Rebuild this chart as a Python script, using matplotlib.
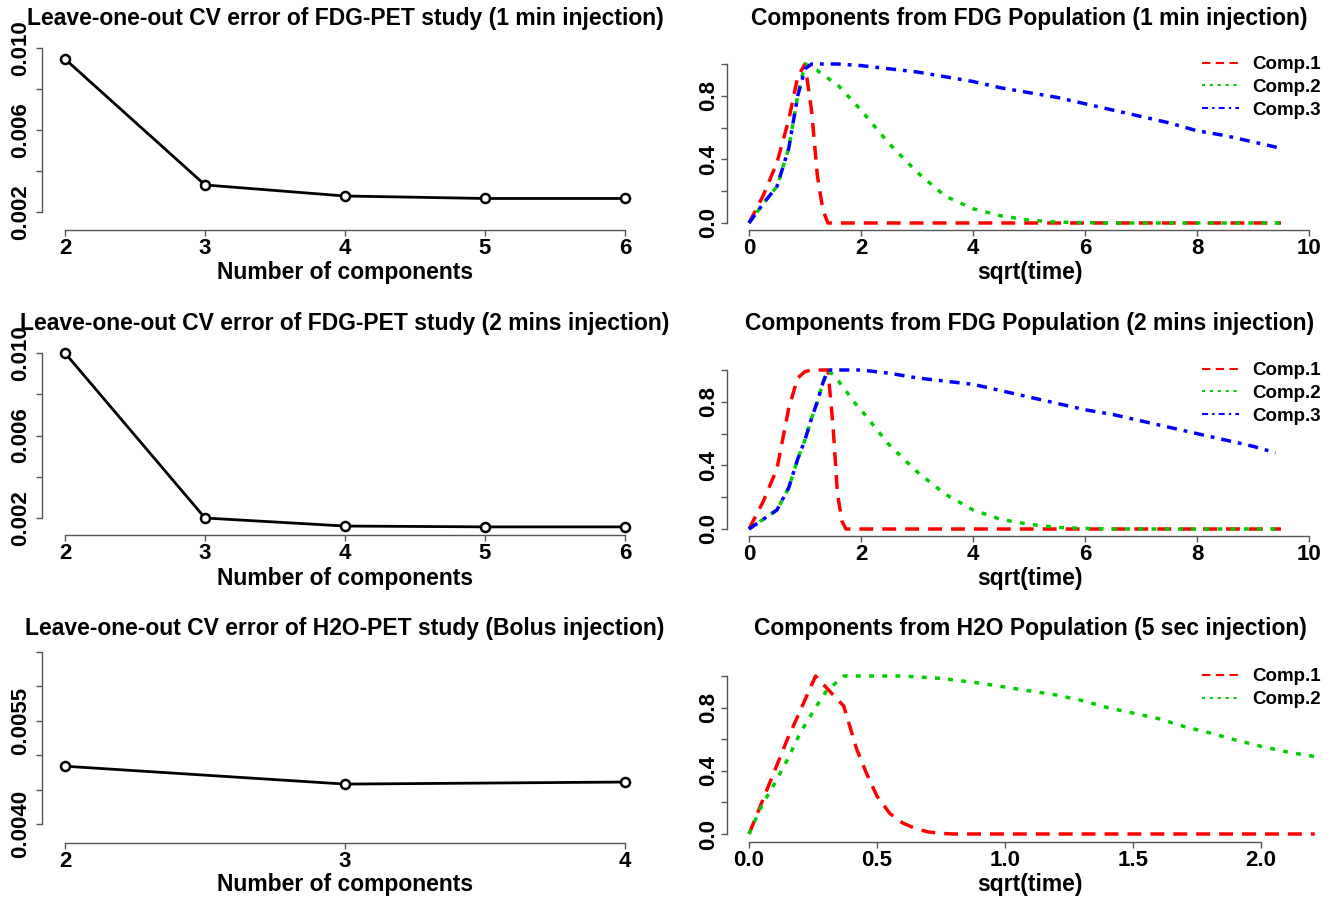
import matplotlib
matplotlib.use('Agg')
import matplotlib.pyplot as plt

plt.rcParams['font.family'] = ['Liberation Sans', 'DejaVu Sans']
plt.rcParams['font.weight'] = 'bold'

# ---- leave-one-out CV error ----
ncomp_fdg = [2, 3, 4, 5, 6]
cv_fdg_1min = [0.00946, 0.00332, 0.00278, 0.00266, 0.00266]
cv_fdg_2min = [0.0100, 0.0020, 0.00161, 0.00157, 0.00157]
ncomp_h2o = [2, 3, 4]
cv_h2o = [0.00484, 0.00458, 0.00461]

# ---- FDG components, 1 min injection ----
t_fdg1 = [0, 0.25, 0.5, 0.71, 0.87, 1.0, 1.12, 1.22, 1.32, 1.41, 1.58, 2.0, 2.5, 3.0,
          3.5, 4.0, 4.5, 5.0, 5.5, 6.0, 6.5, 7.0, 7.5, 8.0, 8.5, 9.0, 9.5]
fdg1_comp1 = [0, 0.17, 0.38, 0.65, 0.92, 1.0, 0.7, 0.3, 0.08, 0.0, 0, 0, 0, 0,
              0, 0, 0, 0, 0, 0, 0, 0, 0, 0, 0, 0, 0]
fdg1_comp2 = [0, 0.12, 0.23, 0.47, 0.8, 1.0, 0.98, 0.96, 0.93, 0.91, 0.87, 0.71, 0.5, 0.32,
              0.17, 0.09, 0.045, 0.018, 0.006, 0.002, 0, 0, 0, 0, 0, 0, 0]
fdg1_comp3 = [0, 0.12, 0.23, 0.47, 0.8, 0.97, 1.0, 1.0, 1.0, 1.0, 1.0, 0.99, 0.97, 0.95,
              0.92, 0.89, 0.85, 0.82, 0.79, 0.75, 0.71, 0.67, 0.63, 0.58, 0.55, 0.51, 0.47]

# ---- FDG components, 2 mins injection ----
t_fdg2 = [0, 0.25, 0.5, 0.71, 0.87, 1.0, 1.12, 1.22, 1.32, 1.41, 1.5, 1.58, 1.66, 1.73,
          1.87, 2.0, 2.5, 3.0, 3.5, 4.0, 4.5, 5.0, 5.5, 6.0, 6.5, 7.0, 7.5, 8.0, 8.5, 9.0, 9.5]
fdg2_comp1 = [0, 0.17, 0.38, 0.76, 0.95, 0.99, 1.0, 1.0, 1.0, 1.0, 0.65, 0.22, 0.05, 0.0,
              0, 0, 0, 0, 0, 0, 0, 0, 0, 0, 0, 0, 0, 0, 0, 0, 0]
fdg2_comp2 = [0, 0.06, 0.12, 0.26, 0.44, 0.56, 0.7, 0.8, 0.92, 1.0, 0.97, 0.94, 0.9, 0.87,
              0.8, 0.75, 0.53, 0.36, 0.22, 0.12, 0.06, 0.03, 0.01, 0.004, 0, 0, 0, 0, 0, 0, 0]
t_fdg2_c3 = [0, 0.25, 0.5, 0.71, 0.87, 1.0, 1.12, 1.22, 1.32, 1.41, 1.5, 2.0, 2.5, 3.0,
             3.5, 4.0, 4.5, 5.0, 5.5, 6.0, 6.5, 7.0, 7.5, 8.0, 8.5, 9.0, 9.4]
fdg2_comp3 = [0, 0.06, 0.12, 0.26, 0.44, 0.56, 0.7, 0.8, 0.92, 1.0, 1.0, 1.0, 0.98, 0.95,
              0.93, 0.91, 0.87, 0.83, 0.79, 0.75, 0.72, 0.68, 0.64, 0.6, 0.56, 0.52, 0.48]

# ---- H2O components, 5 sec injection ----
t_h2o = [0, 0.05, 0.1, 0.15, 0.2, 0.26, 0.3, 0.37, 0.42, 0.46, 0.5, 0.55, 0.6, 0.65, 0.7,
         0.75, 0.8, 0.9, 1.0, 1.1, 1.2, 1.3, 1.4, 1.5, 1.6, 1.7, 1.8, 1.9, 2.0, 2.1, 2.21]
h2o_comp1 = [0, 0.2, 0.4, 0.6, 0.78, 1.0, 0.93, 0.81, 0.54, 0.38, 0.24, 0.13, 0.07, 0.035, 0.013,
             0.004, 0, 0, 0, 0, 0, 0, 0, 0, 0, 0, 0, 0, 0, 0, 0]
h2o_comp2 = [0, 0.18, 0.32, 0.47, 0.64, 0.8, 0.9, 1.0, 1.0, 1.0, 1.0, 1.0, 1.0, 0.995, 0.99,
             0.985, 0.975, 0.955, 0.93, 0.905, 0.88, 0.845, 0.8, 0.765, 0.73, 0.68, 0.64,
             0.595, 0.555, 0.52, 0.49]

W, H = 1333, 897
fig = plt.figure(figsize=(W / 100, H / 100), dpi=100)

AX_COL = '#555555'
RED, GREEN, BLUE = '#FF0000', '#00CC00', '#0000FF'


def make_axes(left, right, top, bottom, xpx, xval, ypx, yval):
    # axes box in pixels, limits from two pixel anchors per axis
    ax = fig.add_axes([left / W, 1 - bottom / H, (right - left) / W, (bottom - top) / H])
    sx = (xval[1] - xval[0]) / (xpx[1] - xpx[0])
    sy = (yval[1] - yval[0]) / (ypx[1] - ypx[0])
    ax.set_xlim(xval[0] + (left - xpx[0]) * sx, xval[0] + (right - xpx[0]) * sx)
    ax.set_ylim(yval[0] + (bottom - ypx[0]) * sy, yval[0] + (top - ypx[0]) * sy)
    ax.patch.set_alpha(0)
    return ax


def style(ax, xticks, xlabels, yticks, ylabels, ypad):
    ax.spines[['top', 'right']].set_visible(False)
    for s in ['left', 'bottom']:
        ax.spines[s].set_color(AX_COL)
        ax.spines[s].set_linewidth(1.0)
    ax.spines['left'].set_bounds(yticks[0], yticks[-1])
    ax.spines['bottom'].set_bounds(xticks[0], xticks[-1])
    ax.set_xticks(xticks, xlabels)
    ax.set_yticks(yticks, ylabels)
    ax.tick_params(direction='out', length=4.5, width=1.0, color=AX_COL, labelsize=16)
    ax.tick_params(axis='x', pad=1.5)
    ax.tick_params(axis='y', pad=ypad)
    for lab in ax.get_yticklabels():
        lab.set_rotation(90)
        lab.set_va('center')


def ftext(x, y, s, size=16.5):
    fig.text(x / W, 1 - y / H, s, ha='center', va='center', fontsize=size, fontweight='bold')


def cv_panel(top, bottom, xticks, yvals_px, yvals, yticks, ylabels, n, cv):
    ax = make_axes(42, 660, top, bottom, (65, 625), (xticks[0], xticks[-1]), yvals_px, yvals)
    ax.plot(n, cv, color='black', lw=2.0, marker='o', ms=6.5, mfc='white', mec='black', mew=1.8,
            clip_on=False)
    style(ax, xticks, [str(v) for v in xticks], yticks, ylabels, 3.5)
    return ax


def comp_panel(top, bottom, xticks, xlabels, xpx, ypx, series, legend_top):
    ax = make_axes(727, 1330, top, bottom, xpx, (xticks[0], xticks[-1]), ypx, (0, 1))
    styles = [(RED, (0, (4.0, 2.6))), (GREEN, (0, (1.4, 2.4))), (BLUE, (0, (2.9, 2.0, 1.1, 2.0)))]
    for (x, y, lab), (c, ls) in zip(series, styles):
        ax.plot(x, y, color=c, lw=2.5, linestyle=ls, label=lab, clip_on=False)
    style(ax, xticks, xlabels, [0, 0.2, 0.4, 0.6, 0.8, 1.0],
          ['0.0', '', '0.4', '', '0.8', ''], 1.0)
    leg = ax.legend(loc='upper left', bbox_to_anchor=(1202 / W, 1 - legend_top / H),
                    bbox_transform=fig.transFigure, frameon=False, borderpad=0,
                    borderaxespad=0, handlelength=1.95, handletextpad=0.75,
                    labelspacing=0.31, fontsize=13.5)
    for line in leg.get_lines():
        line.set_linewidth(1.5)
    return ax


# left column
cv_panel(40, 230, [2, 3, 4, 5, 6], (212, 48), (0.002, 0.010),
         [0.002, 0.004, 0.006, 0.008, 0.010], ['0.002', '', '0.006', '', '0.010'],
         ncomp_fdg, cv_fdg_1min)
cv_panel(345, 535, [2, 3, 4, 5, 6], (518, 353), (0.002, 0.010),
         [0.002, 0.004, 0.006, 0.008, 0.010], ['0.002', '', '0.006', '', '0.010'],
         ncomp_fdg, cv_fdg_2min)
cv_panel(645, 843, [2, 3, 4], (824, 652), (0.0040, 0.0065),
         [0.0040, 0.0045, 0.0050, 0.0055, 0.0060, 0.0065],
         ['0.0040', '', '', '0.0055', '', ''], ncomp_h2o, cv_h2o)

# right column
comp_panel(40, 230, [0, 2, 4, 6, 8, 10], ['0', '2', '4', '6', '8', '10'], (749, 1309), (223, 64),
           [(t_fdg1, fdg1_comp1, 'Comp.1'), (t_fdg1, fdg1_comp2, 'Comp.2'),
            (t_fdg1, fdg1_comp3, 'Comp.3')], 56)
comp_panel(345, 536, [0, 2, 4, 6, 8, 10], ['0', '2', '4', '6', '8', '10'], (749, 1309), (529, 370),
           [(t_fdg2, fdg2_comp1, 'Comp.1'), (t_fdg2, fdg2_comp2, 'Comp.2'),
            (t_fdg2_c3, fdg2_comp3, 'Comp.3')], 362)
comp_panel(650, 842, [0, 0.5, 1.0, 1.5, 2.0], ['0.0', '0.5', '1.0', '1.5', '2.0'], (749, 1261),
           (834, 676), [(t_h2o, h2o_comp1, 'Comp.1'), (t_h2o, h2o_comp2, 'Comp.2')], 668)

# titles and axis labels
ftext(345, 18, 'Leave-one-out CV error of FDG-PET study (1 min injection)')
ftext(345, 323, 'Leave-one-out CV error of FDG-PET study (2 mins injection)')
ftext(345, 628, 'Leave-one-out CV error of H2O-PET study (Bolus injection)')
ftext(1029, 18, 'Components from FDG Population (1 min injection)')
ftext(1030, 323, 'Components from FDG Population (2 mins injection)')
ftext(1030, 628, 'Components from H2O Population (5 sec injection)')
for y in (272, 578, 884):
    ftext(345, y, 'Number of components')
    ftext(1030, y, 'sqrt(time)')

fig.savefig('out.png', dpi=100)
